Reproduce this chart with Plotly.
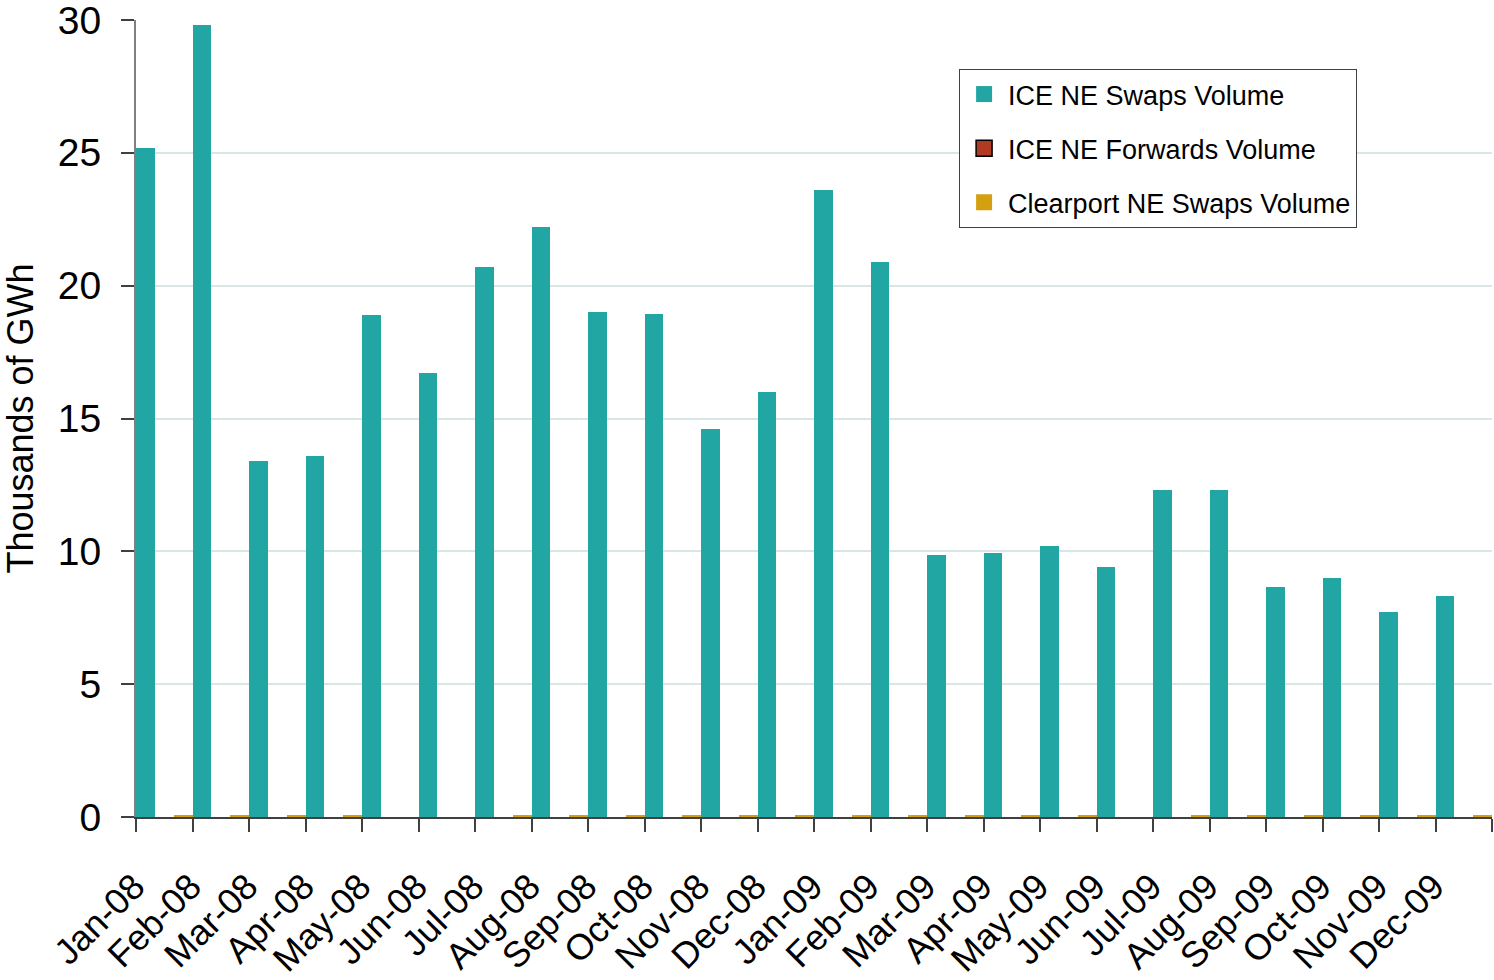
import plotly.graph_objects as go

months = ["Jan-08", "Feb-08", "Mar-08", "Apr-08", "May-08", "Jun-08",
          "Jul-08", "Aug-08", "Sep-08", "Oct-08", "Nov-08", "Dec-08",
          "Jan-09", "Feb-09", "Mar-09", "Apr-09", "May-09", "Jun-09",
          "Jul-09", "Aug-09", "Sep-09", "Oct-09", "Nov-09", "Dec-09"]

# Thousands of GWh
ice_swaps = [25.2, 29.8, 13.4, 13.6, 18.9, 16.7,
             20.7, 22.2, 19.0, 18.95, 14.6, 16.0,
             23.6, 20.9, 9.85, 9.94, 10.2, 9.4,
             12.3, 12.3, 8.66, 9.0, 7.72, 8.32]
ice_forwards = [0.0] * 24
clearport_swaps = [0.06, 0.06, 0.06, 0.06, 0.0, 0.0,
                   0.06, 0.06, 0.06, 0.06, 0.06, 0.06,
                   0.06, 0.06, 0.06, 0.06, 0.06, 0.0,
                   0.06, 0.06, 0.06, 0.06, 0.06, 0.06]

FONT = "Liberation Sans, Arial, sans-serif"

series = [
    ("ICE NE Swaps Volume", ice_swaps, "#22a6a3", None),
    ("ICE NE Forwards Volume", ice_forwards, "#b03a22", "#000000"),
    ("Clearport NE Swaps Volume", clearport_swaps, "#d4a010", None),
]

fig = go.Figure()
for i, (name, vals, color, edge) in enumerate(series):
    fig.add_trace(go.Bar(
        x=months, y=vals, name=name,
        marker=dict(color=color, line=dict(width=0)),
        showlegend=False, legendgroup=f"g{i}",
    ))
# legend keys: larger square swatches
for i, (name, vals, color, edge) in enumerate(series):
    fig.add_trace(go.Scatter(
        x=[None], y=[None], mode="markers", name=name,
        marker=dict(symbol="square", size=16, color=color,
                    line=dict(color=edge or color, width=1.5 if edge else 0)),
        legendgroup=f"g{i}", showlegend=True, hoverinfo="skip",
    ))

fig.update_layout(
    width=1494, height=980,
    margin=dict(l=136, r=2, t=20, b=163, pad=0),
    paper_bgcolor="white", plot_bgcolor="white",
    barmode="group", bargap=0, bargroupgap=0,
    font=dict(family=FONT, color="black"),
    showlegend=True,
    legend=dict(
        x=0.607, y=0.9385, xanchor="left", yanchor="top",
        bgcolor="white", bordercolor="#404040", borderwidth=1,
        font=dict(size=27, family=FONT, color="black"),
        traceorder="grouped", tracegroupgap=16, itemwidth=38,
    ),
)

fig.update_xaxes(
    type="category", tickson="boundaries", automargin=False,
    ticks="outside", ticklen=13, tickwidth=1.5, tickcolor="#404040",
    showline=True, linecolor="#404040", linewidth=2,
    tickangle=-45, tickfont=dict(size=36, family=FONT, color="black"),
    ticklabelshift=-30, ticklabelstandoff=32,
    showgrid=False, zeroline=False,
)
fig.update_yaxes(
    range=[0, 30], dtick=5, tick0=0, automargin=False,
    ticks="outside", ticklen=13, tickwidth=1.5, tickcolor="#404040",
    showline=True, linecolor="#808080", linewidth=2,
    tickfont=dict(size=39, family=FONT, color="black"),
    ticklabelstandoff=12, ticklabeloverflow="allow",
    showgrid=True, gridcolor="#d8e6e8", gridwidth=1.5,
    zeroline=False,
    title=dict(text="Thousands of GWh", standoff=16,
               font=dict(size=36, family=FONT, color="black")),
)

fig.write_html("out.html")
